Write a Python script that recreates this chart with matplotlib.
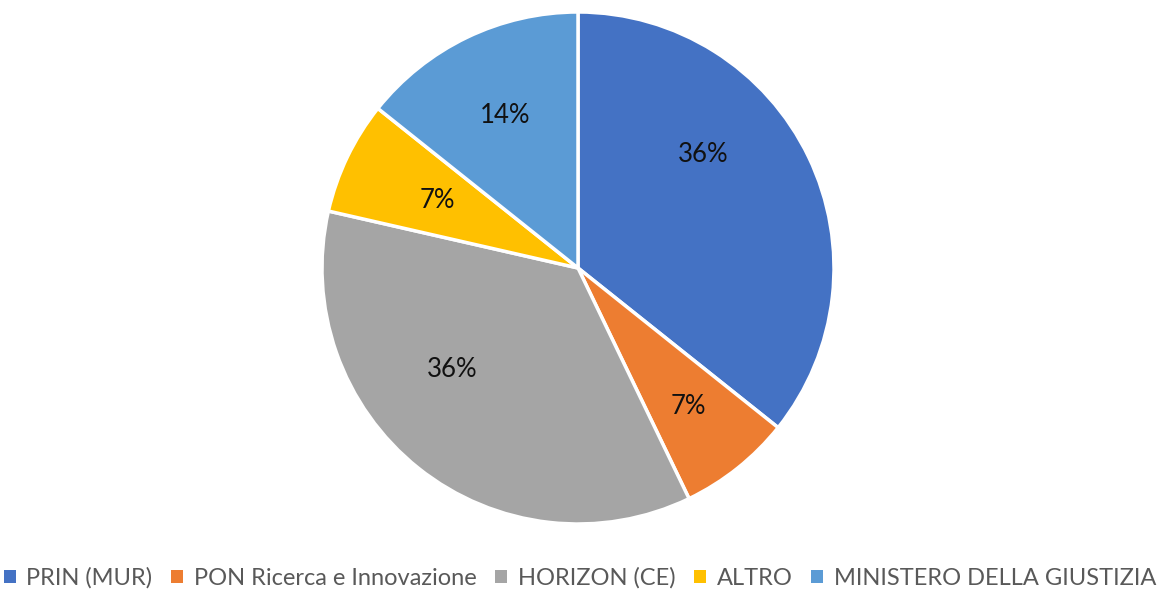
import matplotlib
matplotlib.use("Agg")
import numpy as np
import matplotlib.pyplot as plt
from matplotlib.patches import Patch

categories = ["PRIN (MUR)", "PON Ricerca e Innovazione", "HORIZON (CE)", "ALTRO", "MINISTERO DELLA GIUSTIZIA"]
values = [5, 1, 5, 1, 2]
colors = ["#4472C4", "#ED7D31", "#A5A5A5", "#FFC000", "#5B9BD5"]
# label placement (Excel best-fit): angle clockwise from top (deg), radius fraction
label_angles = [48, None, 231, None, None]
label_radius = [0.66, 0.69, 0.63, 0.61, 0.66]

plt.rcParams['font.family'] = ['Lato', 'DejaVu Sans']

fig = plt.figure(figsize=(11.6, 5.9), dpi=100)
ph = 512 / 590
pw = 512 / 1160
cx, cy = 578 / 1160, (590 - 268) / 590
ax = fig.add_axes([cx - pw / 2, cy - ph / 2, pw, ph])
wedges, texts, autotexts = ax.pie(
    values, colors=colors, startangle=90, counterclock=False,
    autopct=lambda p: f"{p:.0f}%", pctdistance=0.67,
    wedgeprops=dict(edgecolor="white", linewidth=2.5),
    textprops=dict(fontsize=18.5, color="#111111"),
    radius=1.0,
)
for w, t, a, r in zip(wedges, autotexts, label_angles, label_radius):
    if a is None:
        mid = np.deg2rad((w.theta1 + w.theta2) / 2)
        t.set_position((r * np.cos(mid), r * np.sin(mid)))
    else:
        th = np.deg2rad(a)
        t.set_position((r * np.sin(th), r * np.cos(th)))

ax.set_xlim(-1.0, 1.0)
ax.set_ylim(-1.0, 1.0)
ax.set_aspect("equal")

handles = [Patch(facecolor=c, edgecolor="none") for c in colors]
fig.legend(handles, categories, loc="center", bbox_to_anchor=(0.5, (590 - 578) / 590),
           ncol=5, frameon=False, fontsize=17, handlelength=0.5, handleheight=0.5,
           handletextpad=0.45, columnspacing=0.8, labelcolor="#595959")

fig.savefig("out.png", dpi=100)
